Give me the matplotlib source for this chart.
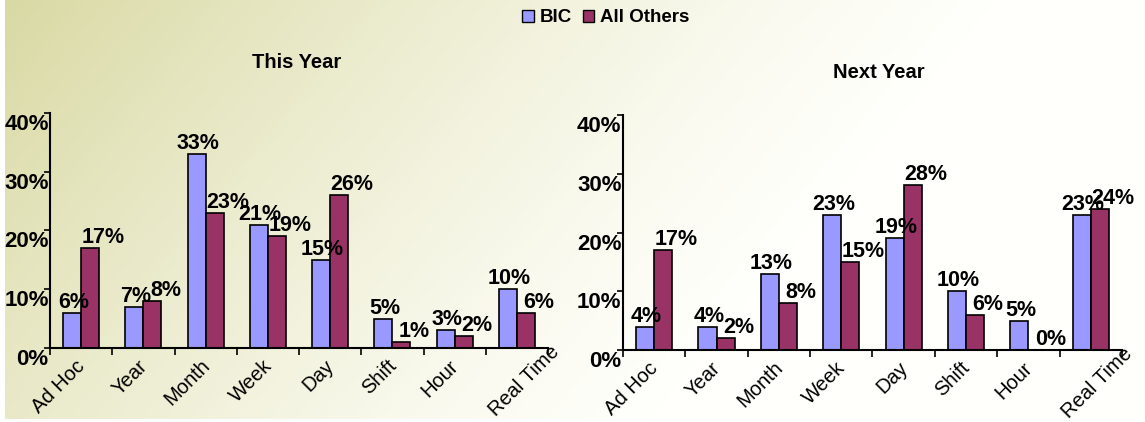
import numpy as np
import matplotlib
matplotlib.use('Agg')
import matplotlib.pyplot as plt
import matplotlib.transforms as mtransforms
from matplotlib.patches import Patch
from matplotlib.ticker import FixedLocator, NullFormatter

categories = ['Ad Hoc', 'Year', 'Month', 'Week', 'Day', 'Shift', 'Hour', 'Real Time']
bic_this = [6, 7, 33, 21, 15, 5, 3, 10]
others_this = [17, 8, 23, 19, 26, 1, 2, 6]
bic_next = [4, 4, 13, 23, 19, 10, 5, 23]
others_next = [17, 2, 8, 15, 28, 6, 0, 24]
yticks = [0, 10, 20, 30, 40]

BIC_COLOR = '#9999ff'
OTHERS_COLOR = '#993366'

plt.rcParams['font.family'] = ['Liberation Sans', 'DejaVu Sans']

fig = plt.figure(figsize=(11.45, 4.22), dpi=100)

# background gradient, yellowish top-left fading to white
bg = fig.add_axes([0, 0, 1, 1], zorder=-10)
h, w = 422, 1145
yy, xx = np.mgrid[0:h, 0:w]
d = np.clip((xx / w) * 1.15 + (yy / h) * 0.35, 0, 1)
t = np.clip(1 - d, 0, 1) ** 1.3
top = np.array([0.85, 0.85, 0.64])
white = np.array([1.0, 1.0, 0.985])
img = white[None, None, :] * (1 - t[..., None]) + top[None, None, :] * t[..., None]
img[:, :5] = 1.0
img[-3:, :] = 1.0
bg.imshow(img, aspect='auto', extent=[0, 1, 0, 1])
bg.set_axis_off()


def px(dx, dy):
    return mtransforms.ScaledTranslation(dx / 100, dy / 100, fig.dpi_scale_trans)


def draw_panel(rect, bic, others, title, title_xy):
    ax = fig.add_axes(rect)
    ax.patch.set_alpha(0)
    x = np.arange(len(categories))
    bw = 0.29
    ax.bar(x - bw / 2, bic, bw, color=BIC_COLOR, edgecolor='black', linewidth=1.2)
    ax.bar(x + bw / 2, others, bw, color=OTHERS_COLOR, edgecolor='black', linewidth=1.2)
    # data labels: BIC roughly centred, All Others pushed right (Excel style)
    for xi, v in zip(x - bw / 2, bic):
        ax.text(xi + 0.02, v, f'{v}%', ha='center', va='bottom', fontsize=15.5,
                fontweight='bold')
    for xi, v in zip(x + bw / 2, others):
        ax.text(xi + 0.21, v, f'{v}%', ha='center', va='bottom', fontsize=15.5,
                fontweight='bold')
    ax.set_xlim(-0.5, len(categories) - 0.5)
    ax.set_ylim(0, 40)
    ax.set_yticks(yticks)
    ax.set_yticklabels([f'{v}%' for v in yticks], fontsize=16, fontweight='bold')
    ax.tick_params(axis='y', length=4, width=1.2, pad=-3)
    for lab in ax.get_yticklabels():
        lab.set_transform(lab.get_transform() + px(0, -9))
    ax.set_xticks(x)
    ax.set_xticklabels(categories, rotation=45, ha='right', va='center',
                       rotation_mode='anchor', fontsize=14.5)
    ax.tick_params(axis='x', which='major', length=0, pad=0)
    labs = ax.get_xticklabels()
    for i, lab in enumerate(labs):
        if i == len(labs) - 1:
            lab.set_transform(lab.get_transform() + px(39, -1))
        else:
            lab.set_transform(lab.get_transform() + px(1, -15))
    ax.xaxis.set_minor_locator(FixedLocator(np.arange(-0.5, len(categories), 1)))
    ax.xaxis.set_minor_formatter(NullFormatter())
    ax.tick_params(axis='x', which='minor', length=5, width=1.2)
    for s in ['top', 'right']:
        ax.spines[s].set_visible(False)
    for s in ['left', 'bottom']:
        ax.spines[s].set_linewidth(1.5)
    fig.text(title_xy[0], title_xy[1], title, ha='center', va='center',
             fontsize=14.5, fontweight='bold')
    return ax


draw_panel([0.0437, 0.1754, 0.4349, 0.5568], bic_this, others_this, 'This Year',
           (297 / 1145, 1 - 62 / 422))
draw_panel([0.5441, 0.1706, 0.4358, 0.5569], bic_next, others_next, 'Next Year',
           (879 / 1145, 1 - 73 / 422))

handles = [Patch(facecolor=BIC_COLOR, edgecolor='black', label='BIC'),
           Patch(facecolor=OTHERS_COLOR, edgecolor='black', label='All Others')]
leg = fig.legend(handles=handles, loc='center', bbox_to_anchor=(0.529, 1 - 18 / 422),
                 ncol=2, frameon=False, handlelength=0.6, handleheight=0.6,
                 handletextpad=0.3, columnspacing=0.6,
                 prop={'size': 13.5, 'weight': 'bold'})

fig.savefig('out.png', dpi=100)
